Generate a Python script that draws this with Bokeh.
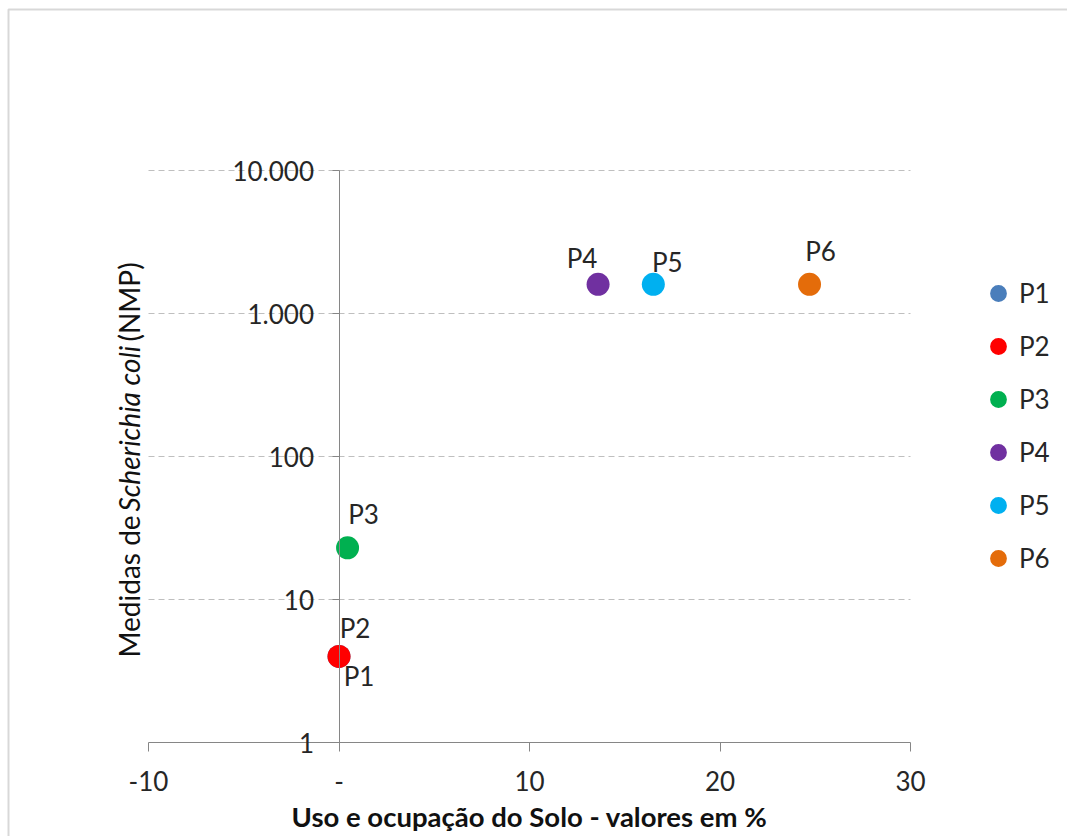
import math

from bokeh.core.properties import value
from bokeh.embed import file_html
from bokeh.models import (BoxAnnotation, ColumnDataSource, FixedTicker, Label,
                          Legend, LegendItem, Range1d)
from bokeh.plotting import figure
from bokeh.resources import INLINE

# Sampling points: land use share (%) and E. coli counts (NMP)
points = ["P1", "P2", "P3", "P4", "P5", "P6"]
uso_solo = [0.0, 0.0, 0.45, 13.6, 16.5, 24.7]
e_coli = [4, 4, 23, 1600, 1600, 1600]
colors = ["#4A7EBB", "#FF0000", "#00B050", "#7030A0", "#00B0F0", "#E46C0A"]

x_ticks = [-10, 0, 10, 20, 30]
x_tick_labels = ["-10", "-", "10", "20", "30"]
y_ticks = [1, 10, 100, 1000, 10000]
y_tick_labels = ["1", "10", "100", "1.000", "10.000"]

# pixel offsets of each point label from its marker (right, down)
label_offsets = {"P1": (20, 20), "P2": (16, -28), "P3": (16, -34),
                 "P4": (-16, -26), "P5": (14, -22), "P6": (11, -33)}

FONT = "Lato"
TEXT_COLOR = "#262626"
AXIS_COLOR = "#868686"

W, H = 1067, 836
# plot area inside the canvas (pixels from the left / top)
PA_LEFT, PA_RIGHT, PA_TOP, PA_BOTTOM = 148, 910, 170, 742

# the frame fills the whole canvas; extend the ranges so the axes' extent
# lands on the plot area above
x0, x1 = x_ticks[0], x_ticks[-1]
px_per_x = (PA_RIGHT - PA_LEFT) / (x1 - x0)
lx0, lx1 = x0 - PA_LEFT / px_per_x, x1 + (W - PA_RIGHT) / px_per_x
ly0, ly1 = math.log10(y_ticks[0]), math.log10(y_ticks[-1])
px_per_dec = (PA_BOTTOM - PA_TOP) / (ly1 - ly0)
ry0 = 10 ** (ly0 - (H - PA_BOTTOM) / px_per_dec)
ry1 = 10 ** (ly1 + PA_TOP / px_per_dec)

p = figure(width=W, height=H, output_backend="svg", toolbar_location=None,
           x_range=Range1d(lx0, lx1), y_range=Range1d(ry0, ry1), y_axis_type="log",
           min_border=0, background_fill_color="white",
           border_fill_color="white", outline_line_color=None)

# x axis along y = 1
xa = p.xaxis[0]
xa.fixed_location = y_ticks[0]
xa.bounds = (x0, x1)
xa.ticker = FixedTicker(ticks=x_ticks)
xa.major_label_overrides = dict(zip(x_ticks, x_tick_labels))
xa.axis_line_color = AXIS_COLOR
xa.major_tick_line_color = AXIS_COLOR
xa.major_tick_in = 0
xa.major_tick_out = 9
xa.minor_tick_line_color = None
xa.major_label_text_font = FONT
xa.major_label_text_font_size = "26px"
xa.major_label_text_color = TEXT_COLOR
xa.major_label_standoff = 19
xa.axis_label = "Uso e ocupação do Solo - valores em %"
xa.axis_label_text_font = FONT
xa.axis_label_text_font_style = "bold"
xa.axis_label_text_font_size = "27.5px"
xa.axis_label_text_color = "#111111"
xa.axis_label_standoff = 6

# log y axis crossing at x = 0
ya = p.yaxis[0]
ya.fixed_location = 0
ya.bounds = (y_ticks[0], y_ticks[-1])
ya.ticker = FixedTicker(ticks=y_ticks)
ya.major_label_overrides = dict(zip(y_ticks, y_tick_labels))
ya.axis_line_color = AXIS_COLOR
ya.major_tick_line_color = AXIS_COLOR
ya.major_tick_in = 0
ya.major_tick_out = 7
ya.minor_tick_line_color = None
ya.major_label_text_font = FONT
ya.major_label_text_font_size = "26px"
ya.major_label_text_color = TEXT_COLOR
ya.major_label_standoff = 18

# dashed horizontal gridlines across the plot area
p.xgrid.visible = False
p.ygrid.visible = False
grid_y = y_ticks[1:]
p.segment(x0=[x0] * len(grid_y), x1=[x1] * len(grid_y), y0=grid_y, y1=grid_y,
          line_color="#BFBFBF", line_dash="6 4", line_width=1, level="underlay")

# markers, one renderer per point so each gets a legend entry
items = []
for name, xv, yv, col in zip(points, uso_solo, e_coli, colors):
    src = ColumnDataSource(dict(x=[xv], y=[yv], name=[name]))
    r = p.scatter("x", "y", source=src, size=23, fill_color=col, line_color=None)
    dx, dy = label_offsets[name]
    p.text("x", "y", text="name", source=src, x_offset=dx, y_offset=dy,
           text_font=value(FONT), text_font_size="26px", text_color=TEXT_COLOR,
           text_align="center", text_baseline="middle")
    items.append(LegendItem(label=name, renderers=[r]))

legend = Legend(items=items, location=(977, 257), orientation="vertical",
                glyph_width=42, glyph_height=42, spacing=11, padding=0, margin=0,
                label_standoff=0, label_text_font=FONT, label_text_font_size="26px",
                label_text_color=TEXT_COLOR, border_line_color=None,
                background_fill_alpha=0)
p.add_layout(legend)

# y axis title with italic species name, drawn as consecutive rotated runs
title_parts = [("Medidas de", "normal", 0), ("Scherichia coli", "italic", 146),
               ("(NMP)", "normal", 316)]
for txt, style, shift in title_parts:
    p.add_layout(Label(x=128, y=H - 657 + shift, x_units="screen", y_units="screen",
                       text=txt, angle=math.pi / 2, text_align="left",
                       text_baseline="middle", text_font=FONT,
                       text_font_style=style, text_font_size="28px",
                       text_color="#111111"))

# chart area border
p.add_layout(BoxAnnotation(left=8, right=W + 200, top=H - 9, bottom=-200,
                           left_units="screen", right_units="screen",
                           top_units="screen", bottom_units="screen",
                           fill_alpha=0, line_color="#7F7F7F", line_width=2))

open("out.html", "w").write(file_html(p, INLINE))
